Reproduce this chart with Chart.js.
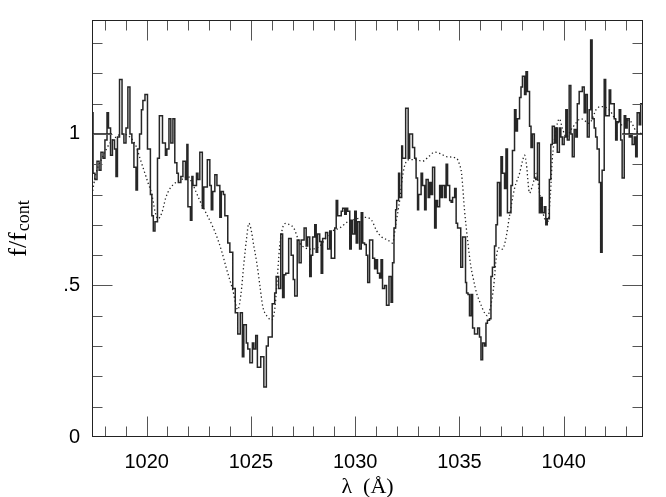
<!DOCTYPE html>
<html><head><meta charset="utf-8">
<script src="https://cdn.jsdelivr.net/npm/chart.js@4/dist/chart.umd.min.js"></script>
<style>html,body{margin:0;padding:0;background:#fff;}canvas{display:block;}</style>
</head><body>
<canvas id="c" width="666" height="497"></canvas>
<script>
// ---- data (wavelength in Angstrom, normalised flux) ----
const specWave = [1017.38,1017.43,1017.52,1017.62,1017.72,1017.81,1017.91,1018.00,1018.10,1018.17,
1018.27,1018.36,1018.46,1018.53,1018.60,1018.70,1018.82,1018.91,1019.01,1019.10,
1019.20,1019.29,1019.39,1019.49,1019.56,1019.66,1019.75,1019.82,1019.92,1020.04,
1020.18,1020.25,1020.32,1020.40,1020.52,1020.61,1020.76,1020.90,1020.97,1021.07,
1021.16,1021.26,1021.35,1021.45,1021.52,1021.64,1021.74,1021.86,1021.93,1021.98,
1022.10,1022.17,1022.22,1022.39,1022.46,1022.55,1022.67,1022.74,1022.91,1023.03,
1023.10,1023.17,1023.27,1023.37,1023.51,1023.58,1023.68,1023.75,1023.89,1023.99,
1024.13,1024.25,1024.37,1024.49,1024.59,1024.66,1024.78,1024.85,1024.95,1025.07,
1025.14,1025.23,1025.31,1025.47,1025.62,1025.74,1025.83,1026.02,1026.14,1026.21,
1026.33,1026.43,1026.52,1026.59,1026.67,1026.81,1026.93,1027.03,1027.10,1027.22,
1027.31,1027.41,1027.55,1027.65,1027.72,1027.82,1027.89,1027.96,1028.06,1028.13,
1028.20,1028.30,1028.37,1028.44,1028.58,1028.68,1028.78,1028.85,1029.02,1029.09,
1029.16,1029.33,1029.40,1029.50,1029.57,1029.64,1029.74,1029.81,1029.88,1029.98,
1030.05,1030.12,1030.21,1030.29,1030.36,1030.45,1030.53,1030.60,1030.69,1030.84,
1030.93,1031.00,1031.07,1031.17,1031.24,1031.31,1031.41,1031.50,1031.62,1031.72,
1031.79,1031.86,1031.94,1031.99,1032.08,1032.13,1032.23,1032.27,1032.42,1032.54,
1032.61,1032.75,1032.85,1032.92,1032.99,1033.04,1033.16,1033.23,1033.33,1033.40,
1033.50,1033.57,1033.64,1033.71,1033.81,1033.88,1033.95,1034.05,1034.12,1034.19,
1034.29,1034.36,1034.43,1034.53,1034.60,1034.67,1034.77,1034.84,1034.91,1035.06,
1035.15,1035.29,1035.34,1035.41,1035.48,1035.56,1035.63,1035.72,1035.87,1035.96,
1036.03,1036.11,1036.20,1036.27,1036.34,1036.44,1036.51,1036.58,1036.68,1036.75,
1036.82,1036.92,1036.99,1037.06,1037.16,1037.23,1037.30,1037.47,1037.54,1037.64,
1037.71,1037.78,1037.88,1037.95,1038.02,1038.12,1038.19,1038.26,1038.36,1038.43,
1038.50,1038.59,1038.66,1038.74,1038.83,1038.90,1038.97,1039.07,1039.14,1039.21,
1039.31,1039.38,1039.45,1039.55,1039.62,1039.69,1039.79,1039.86,1039.93,1040.02,
1040.10,1040.17,1040.26,1040.34,1040.41,1040.50,1040.58,1040.65,1040.74,1040.89,
1040.98,1041.05,1041.13,1041.22,1041.29,1041.36,1041.46,1041.53,1041.60,1041.70,
1041.77,1041.84,1041.94,1042.01,1042.18,1042.25,1042.42,1042.49,1042.56,1042.66,
1042.73,1042.80,1042.90,1042.97,1043.04,1043.14,1043.21,1043.28,1043.38,1043.45,
1043.52,1043.62,1043.69,1043.76,1043.80];
const specFlux = [0.74,1.07,0.87,0.85,0.91,0.88,0.94,0.92,0.98,1.07,
1.02,0.93,0.98,0.95,0.86,0.99,1.18,1.00,0.97,1.02,
1.155,1.00,0.97,0.89,0.815,0.95,1.00,1.08,1.11,1.13,
0.95,0.80,0.73,0.68,0.71,0.92,1.06,0.97,0.93,0.95,
1.05,0.97,1.05,0.905,0.87,0.84,0.86,0.91,0.85,0.965,
0.76,0.715,0.86,0.83,0.87,0.85,0.94,0.755,0.825,0.915,
0.83,0.75,0.81,0.865,0.83,0.725,0.81,0.80,0.73,0.64,
0.61,0.49,0.41,0.34,0.41,0.265,0.37,0.31,0.29,0.245,
0.31,0.29,0.335,0.23,0.265,0.165,0.30,0.33,0.44,0.475,
0.53,0.49,0.67,0.46,0.535,0.54,0.655,0.60,0.52,0.465,
0.65,0.575,0.65,0.69,0.63,0.66,0.53,0.60,0.66,0.70,
0.61,0.67,0.645,0.54,0.655,0.675,0.62,0.68,0.59,0.69,
0.78,0.73,0.745,0.755,0.735,0.755,0.745,0.62,0.715,0.67,
0.745,0.64,0.71,0.62,0.74,0.64,0.635,0.60,0.51,0.65,
0.59,0.555,0.585,0.54,0.525,0.585,0.49,0.50,0.435,0.53,
0.445,0.575,0.69,0.75,0.78,0.87,0.79,0.96,0.92,1.085,
0.92,1.00,0.955,0.92,0.855,0.75,0.80,0.87,0.83,0.75,
0.85,0.79,0.84,0.80,0.89,0.69,0.78,0.76,0.83,0.79,
0.83,0.79,0.90,0.83,0.78,0.775,0.79,0.82,0.705,0.69,
0.56,0.66,0.51,0.475,0.47,0.40,0.47,0.36,0.34,0.36,
0.33,0.255,0.31,0.30,0.375,0.385,0.39,0.53,0.56,0.63,
0.70,0.84,0.73,0.925,0.87,0.82,0.95,0.74,0.83,0.945,
1.08,1.01,1.05,1.12,1.155,1.19,1.13,1.205,1.14,1.025,
0.955,1.00,0.855,0.85,0.97,0.74,0.79,0.74,0.76,0.70,
0.72,0.85,0.965,1.025,0.97,1.02,0.94,1.02,0.99,0.965,
0.99,1.08,0.98,1.16,1.00,0.925,1.015,0.99,1.10,1.14,
1.155,1.07,1.13,0.99,1.08,1.31,1.05,1.02,0.99,0.95,
0.84,0.61,0.88,1.18,1.06,1.145,1.10,1.05,0.98,1.04,
1.08,0.98,0.855,1.06,1.02,1.05,0.99,1.00,0.965,0.99,
0.925,1.07,1.03,1.10,1.10];

const modelWave = [1017.38,1017.57,1017.86,1018.24,1018.53,1018.82,1019.20,1019.49,1019.68,1019.87,
1020.06,1020.25,1020.40,1020.54,1020.73,1020.92,1021.12,1021.40,1021.69,1021.98,
1022.17,1022.36,1022.55,1022.84,1023.13,1023.37,1023.61,1023.85,1024.13,1024.37,
1024.52,1024.66,1024.80,1024.90,1024.99,1025.14,1025.28,1025.43,1025.57,1025.76,
1026.00,1026.14,1026.24,1026.38,1026.52,1026.67,1026.86,1027.05,1027.34,1027.58,
1027.82,1028.30,1028.63,1028.92,1029.26,1029.64,1030.07,1030.45,1030.79,1031.03,
1031.27,1031.56,1031.79,1031.94,1032.13,1032.27,1032.42,1032.61,1032.90,1033.23,
1033.52,1033.81,1034.09,1034.38,1034.86,1035.00,1035.10,1035.24,1035.39,1035.53,
1035.67,1035.82,1036.01,1036.20,1036.34,1036.49,1036.63,1036.78,1036.92,1037.06,
1037.21,1037.40,1037.64,1037.88,1038.02,1038.12,1038.21,1038.36,1038.50,1038.69,
1038.83,1038.97,1039.21,1039.36,1039.45,1039.60,1039.79,1039.93,1040.12,1040.41,
1040.84,1041.22,1041.60,1041.84,1042.18,1042.51,1042.80,1043.14,1043.47,1043.76];
const modelFlux = [0.80,0.87,0.92,0.97,0.99,1.00,0.99,0.96,0.92,0.88,
0.84,0.80,0.745,0.72,0.74,0.79,0.82,0.84,0.85,0.86,
0.84,0.81,0.78,0.74,0.70,0.66,0.61,0.55,0.485,0.42,
0.47,0.57,0.66,0.705,0.69,0.63,0.575,0.50,0.43,0.40,
0.386,0.42,0.50,0.63,0.69,0.705,0.70,0.69,0.64,0.625,
0.62,0.63,0.66,0.68,0.69,0.71,0.72,0.725,0.715,0.68,
0.66,0.65,0.64,0.70,0.78,0.86,0.905,0.915,0.915,0.91,
0.925,0.94,0.935,0.925,0.92,0.90,0.87,0.75,0.65,0.57,
0.52,0.475,0.44,0.41,0.40,0.43,0.49,0.60,0.625,0.62,
0.65,0.73,0.82,0.87,0.91,0.93,0.90,0.805,0.83,0.87,
0.81,0.75,0.705,0.80,0.915,1.00,1.05,1.02,0.99,1.02,
1.05,1.035,1.085,1.09,1.08,1.045,1.03,1.045,1.01,1.00];

const contLeftWave = [1017.38, 1018.34];
const contRightWave = [1042.80, 1043.80];
const contLevel = 1.0;

const xRange = [1017.38, 1043.80];
const yRange = [0, 1.376];
const xTickValues = [1020, 1025, 1030, 1035, 1040];
const xTickLabels = ['1020', '1025', '1030', '1035', '1040'];
const yTickValues = [0, 0.5, 1];
const yTickLabels = ['0', '.5', '1'];
const xMinorTicks = [1018,1019,1020,1021,1022,1023,1024,1025,1026,1027,1028,1029,1030,1031,1032,1033,1034,1035,1036,1037,1038,1039,1040,1041,1042,1043];
const yMinorTicks = [0.1,0.2,0.3,0.4,0.5,0.6,0.7,0.8,0.9,1.0,1.1,1.2,1.3];
const xTitle = 'λ  (Å)';
const yTitleMain = 'f/f';
const yTitleSub = 'cont';

// ---- build ----
const pts = (xs, ys) => xs.map((v, i) => ({x: v, y: ys[i]}));

const framePlugin = {
  id: 'frame',
  afterDatasetsDraw(chart) {
    const {ctx, chartArea: a, scales: {x, y}} = chart;
    const L = Math.round(a.left) + 0.5, R = Math.round(a.right) - 0.5;
    const T = Math.round(a.top) + 0.5, B = Math.round(a.bottom) - 0.5;
    ctx.save();
    ctx.lineWidth = 1;
    ctx.strokeStyle = '#555';
    ctx.beginPath();
    xMinorTicks.forEach(v => {
      const px = Math.round(x.getPixelForValue(v)) + 0.5;
      const len = xTickValues.includes(v) ? 20 : 10;
      ctx.moveTo(px, B); ctx.lineTo(px, B - len);
      ctx.moveTo(px, T); ctx.lineTo(px, T + len);
    });
    yMinorTicks.forEach(v => {
      const py = Math.round(y.getPixelForValue(v)) + 0.5;
      const len = yTickValues.some(t => Math.abs(t - v) < 1e-6) ? 20 : 10;
      ctx.moveTo(L, py); ctx.lineTo(L + len, py);
      ctx.moveTo(R, py); ctx.lineTo(R - len, py);
    });
    ctx.stroke();
    ctx.strokeStyle = '#222';
    ctx.strokeRect(L, T, R - L, B - T);
    ctx.restore();
  },
  afterDraw(chart) {
    const {ctx, chartArea: a} = chart;
    ctx.save();
    ctx.fillStyle = '#000';
    ctx.font = '22px "Liberation Serif", "DejaVu Serif", serif';
    ctx.textAlign = 'center';
    ctx.textBaseline = 'alphabetic';
    ctx.fillText(xTitle, (a.left + a.right) / 2, 493);
    ctx.translate(17, (a.top + a.bottom) / 2);
    ctx.rotate(-Math.PI / 2);
    ctx.textAlign = 'left';
    const mainFont = '26px "Liberation Serif", "DejaVu Serif", serif';
    const subFont = '18px "Liberation Serif", "DejaVu Serif", serif';
    ctx.font = mainFont;
    const mw = ctx.measureText(yTitleMain).width;
    ctx.font = subFont;
    const sw = ctx.measureText(yTitleSub).width;
    const x0 = -(mw + sw + 1) / 2;
    ctx.font = mainFont;
    ctx.fillText(yTitleMain, x0, 9);
    ctx.font = subFont;
    ctx.fillText(yTitleSub, x0 + mw + 1, 12);
    ctx.restore();
  }
};

const tickFont = {family: '"Liberation Sans", Arial, Helvetica, sans-serif', size: 20};

new Chart(document.getElementById('c'), {
  type: 'scatter',
  data: {
    datasets: [
      {data: pts(modelWave, modelFlux), showLine: true, pointRadius: 0, borderColor: '#222',
       borderWidth: 1.3, borderDash: [1.3, 2.6], cubicInterpolationMode: 'monotone', fill: false},
      {data: pts(specWave, specFlux), showLine: true, pointRadius: 0, borderColor: '#262626',
       borderWidth: 1.5, stepped: 'after', fill: false},
      {data: pts(contLeftWave, [contLevel, contLevel]), showLine: true, pointRadius: 0,
       borderColor: '#000', borderWidth: 1.3},
      {data: pts(contRightWave, [contLevel, contLevel]), showLine: true, pointRadius: 0,
       borderColor: '#000', borderWidth: 1.3}
    ]
  },
  options: {
    responsive: false,
    animation: false,
    devicePixelRatio: 1,
    layout: {padding: {left: 0, right: 23, top: 20, bottom: 0}},
    plugins: {legend: {display: false}, tooltip: {enabled: false}},
    scales: {
      x: {
        type: 'linear', position: 'bottom', min: xRange[0], max: xRange[1],
        grid: {display: false, drawTicks: false}, border: {display: false},
        afterBuildTicks: s => { s.ticks = xTickValues.map(v => ({value: v})); },
        afterFit: s => { s.height = 60; s.paddingLeft = 0; s.paddingRight = 0; },
        ticks: {padding: 13, color: '#000', font: tickFont, maxRotation: 0,
                callback: (v, i) => xTickLabels[i]}
      },
      y: {
        type: 'linear', min: yRange[0], max: yRange[1],
        grid: {display: false, drawTicks: false}, border: {display: false},
        afterBuildTicks: s => { s.ticks = yTickValues.map(v => ({value: v})); },
        afterFit: s => { s.width = 92; s.paddingTop = 0; s.paddingBottom = 0; },
        ticks: {padding: 12, color: '#000', font: tickFont,
                callback: (v, i) => yTickLabels[i]}
      }
    }
  },
  plugins: [framePlugin]
});
</script>
</body></html>
